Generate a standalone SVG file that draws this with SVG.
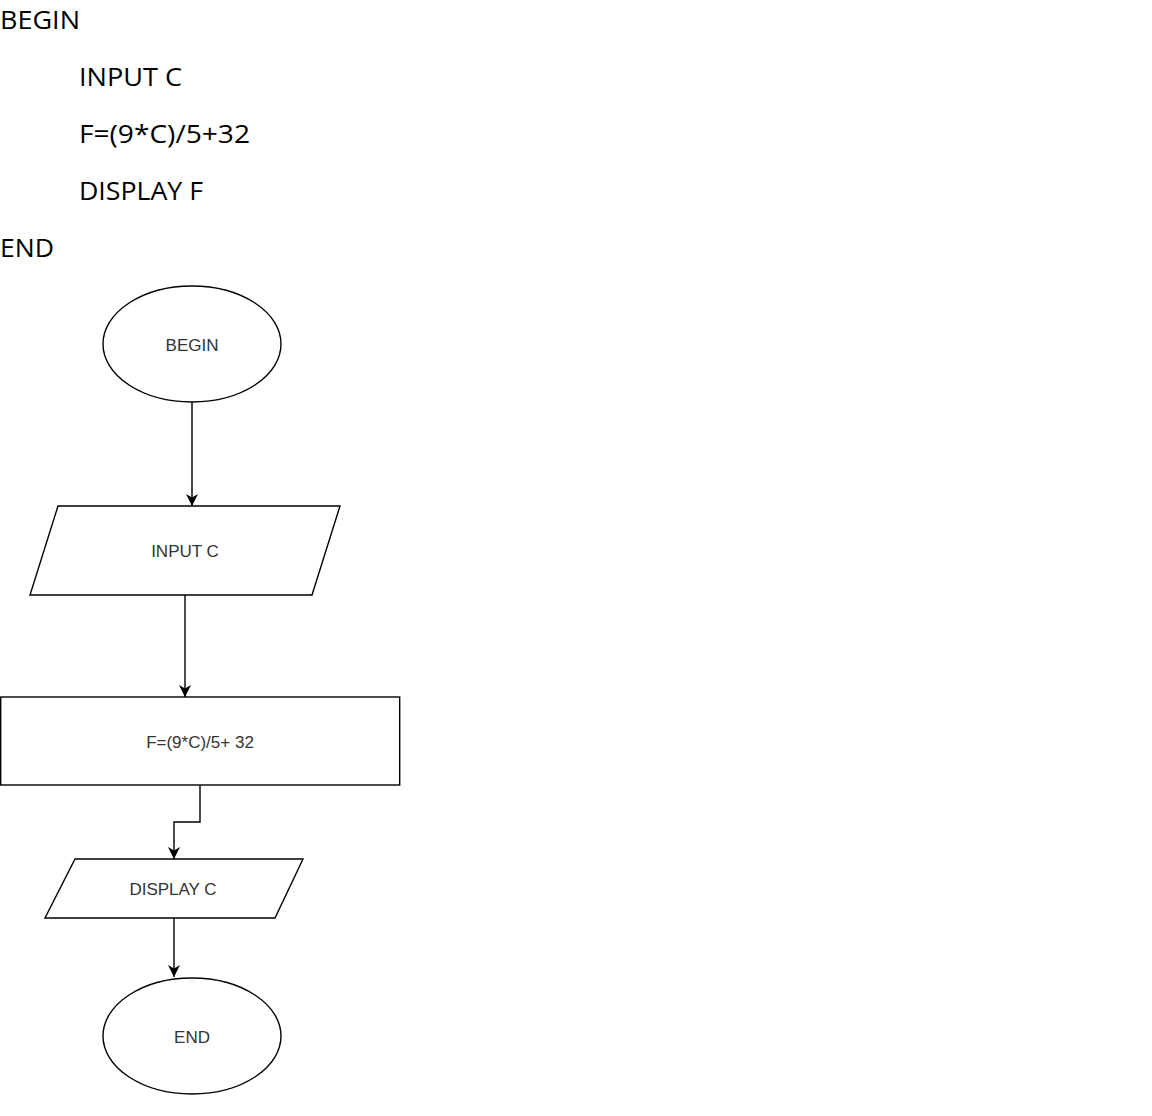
<svg xmlns="http://www.w3.org/2000/svg" width="1152" height="1116" viewBox="0 0 1152 1116">
  <style>
    .code { font-family: "Open Sans", "Liberation Sans", sans-serif; font-size: 26px; fill: #000; }
    .shape { fill: #fff; stroke: #000; stroke-width: 1.4; }
    .label { font-family: "Liberation Sans", Arial, sans-serif; font-size: 17px; fill: #333; text-anchor: middle; dominant-baseline: central; }
    .edge { fill: none; stroke: #000; stroke-width: 1.4; }
  </style>
  <defs>
    <marker id="arrow" viewBox="0 0 12 12" refX="12" refY="6" markerWidth="12" markerHeight="12" markerUnits="userSpaceOnUse" orient="auto">
      <path d="M0,0 L12,6 L0,12 L3.5,6 Z" fill="#000"/>
    </marker>
  </defs>
  <rect width="1152" height="1116" fill="#fff"/>

  <!-- pseudocode -->
  <g id="pseudocode">
    <text class="code" x="0" y="29" textLength="80" lengthAdjust="spacingAndGlyphs">BEGIN</text>
    <text class="code" x="79" y="86" textLength="103" lengthAdjust="spacingAndGlyphs">INPUT C</text>
    <text class="code" x="79" y="143" textLength="171" lengthAdjust="spacingAndGlyphs">F=(9*C)/5+32</text>
    <text class="code" x="79" y="200" textLength="124" lengthAdjust="spacingAndGlyphs">DISPLAY F</text>
    <text class="code" x="0" y="257" textLength="54" lengthAdjust="spacingAndGlyphs">END</text>
  </g>

  <!-- connectors -->
  <g id="connectors">
    <path class="edge" d="M192,402 V506" marker-end="url(#arrow)"/>
    <path class="edge" d="M185,595 V697" marker-end="url(#arrow)"/>
    <path class="edge" d="M200,785 V822 H174 V859" marker-end="url(#arrow)"/>
    <path class="edge" d="M174,918 V977" marker-end="url(#arrow)"/>
  </g>

  <!-- flowchart nodes -->
  <g id="node-begin">
    <ellipse class="shape" cx="192" cy="344" rx="89" ry="58"/>
    <text class="label" x="192" y="345">BEGIN</text>
  </g>
  <g id="node-input">
    <polygon class="shape" points="58,506 340,506 312,595 30,595"/>
    <text class="label" x="185" y="551">INPUT C</text>
  </g>
  <g id="node-compute">
    <rect class="shape" x="0.7" y="697" width="399" height="88"/>
    <text class="label" x="200" y="742">F=(9*C)/5+ 32</text>
  </g>
  <g id="node-display">
    <polygon class="shape" points="75,859 303,859 275,918 45,918"/>
    <text class="label" x="173" y="889">DISPLAY C</text>
  </g>
  <g id="node-end">
    <ellipse class="shape" cx="192" cy="1036" rx="89" ry="58"/>
    <text class="label" x="192" y="1037">END</text>
  </g>
</svg>
